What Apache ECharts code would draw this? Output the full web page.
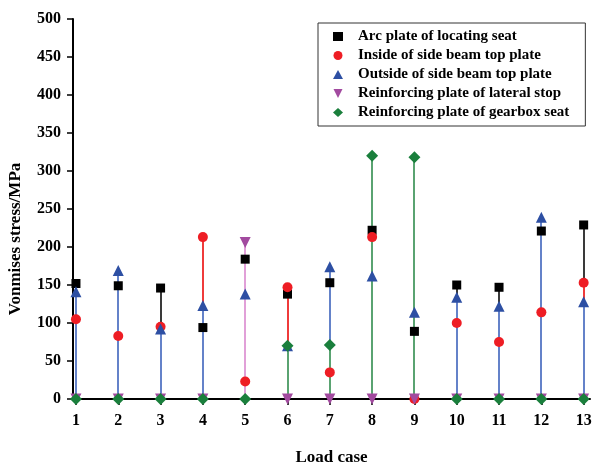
<!DOCTYPE html>
<html>
<head>
<meta charset="utf-8">
<script src="https://cdn.jsdelivr.net/npm/echarts@6/dist/echarts.min.js"></script>
<style>
  html, body { margin: 0; padding: 0; background: #fff; }
  #chart { width: 593px; height: 463px; }
</style>
</head>
<body>
<div id="chart"></div>
<script>
var loadCases = [1, 2, 3, 4, 5, 6, 7, 8, 9, 10, 11, 12, 13]
var yTicks = [0, 50, 100, 150, 200, 250, 300, 350, 400, 450, 500]

var arcPlate = [152, 149, 146, 94, 184, 138, 153, 222, 89, 150, 147, 221, 229]
var insideTop = [105, 83, 95, 213, 23, 147, 35, 213, 0, 100, 75, 114, 153]
var outsideTop = [141, 169, 92, 123, 138, 70, 174, 162, 114, 134, 122, 239, 128]
var lateralStop = [0, 0, 0, 0, 206, 0, 0, 0, 0, 0, 0, 0, 0]
var gearboxSeat = [0, 0, 0, 0, 0, 70, 71, 320, 318, 0, 0, 0, 0]

var names = [
  'Arc plate of locating seat',
  'Inside of side beam top plate',
  'Outside of side beam top plate',
  'Reinforcing plate of lateral stop',
  'Reinforcing plate of gearbox seat'
]
var values = [arcPlate, insideTop, outsideTop, lateralStop, gearboxSeat]
var markColors = ['#000000', '#ee1d24', '#2d4fa3', '#a24a9f', '#1a7f3c']
var stemColors = ['#3a3a3a', '#ef3b3b', '#6482c9', '#e1a0d8', '#5aa371']
var symbols = ['rect', 'circle', 'triangle', 'path://M0,0 L10,0 L5,10 Z', 'diamond']
var sizes = [9, 10, 11, 11, 12]

var font = "'Liberation Serif', 'Times New Roman', serif"

var pairs = function(arr) {
  return arr.map(function(v, i) { return [loadCases[i], v] })
}

var series = []
// drop lines from 0 to each value, later series drawn on top
values.forEach(function(arr, k) {
  series.push({
    name: names[k] + ' stem',
    type: 'custom',
    data: pairs(arr),
    silent: true,
    z: 1 + k,
    renderItem: function(params, api) {
      var x = api.value(0), y = api.value(1)
      if (!y) return null
      var p0 = api.coord([x, 0])
      var p1 = api.coord([x, y])
      var px = Math.round(p0[0]) // snap so stacked stems cover each other cleanly
      return {
        type: 'line',
        z2: k,
        shape: { x1: px, y1: p0[1], x2: px, y2: p1[1] },
        style: { stroke: stemColors[k], lineWidth: 2 }
      }
    }
  })
})
// markers
values.forEach(function(arr, k) {
  series.push({
    name: names[k],
    type: 'scatter',
    data: pairs(arr),
    symbol: symbols[k],
    symbolSize: sizes[k],
    itemStyle: { color: markColors[k], opacity: 1 },
    z: 6 + k
  })
})

var chart = echarts.init(document.getElementById('chart'))
var option = {
  backgroundColor: '#fff',
  animation: false,
  grid: { left: 73, right: 3, top: 19, bottom: 64, outerBoundsMode: 'none' },
  legend: {
    orient: 'vertical',
    left: 318,
    top: 23,
    data: names.map(function(n, k) { return { name: n, icon: symbols[k] } }),
    itemWidth: 10,
    itemHeight: 9,
    itemGap: 4,
    padding: [6, 16, 6, 15],
    borderColor: '#333',
    borderWidth: 1,
    textStyle: {
      fontFamily: font, fontWeight: 'bold', fontSize: 15, color: '#000',
      padding: [0, 0, 0, 10]
    }
  },
  xAxis: {
    type: 'value',
    min: 0.93,
    max: 13.15,
    name: 'Load case',
    nameLocation: 'middle',
    nameGap: 50,
    nameTextStyle: { fontFamily: font, fontWeight: 'bold', fontSize: 17, color: '#000' },
    splitLine: { show: false },
    axisLine: { onZero: false, lineStyle: { color: '#000', width: 2 } },
    axisTick: { customValues: loadCases, length: 6, lineStyle: { color: '#000', width: 1.5 } },
    axisLabel: {
      customValues: loadCases,
      margin: 14,
      fontFamily: font, fontWeight: 'bold', fontSize: 16, color: '#000'
    }
  },
  yAxis: {
    type: 'value',
    min: 0,
    max: 500,
    interval: 50,
    name: 'Vonmises stress/MPa',
    nameLocation: 'middle',
    nameGap: 49,
    nameTextStyle: {
      fontFamily: font, fontWeight: 'bold', fontSize: 17, color: '#000',
      padding: [0, 60, 0, 0]
    },
    splitLine: { show: false },
    axisLine: { show: true, lineStyle: { color: '#000', width: 2 } },
    axisTick: { show: true, length: 6, lineStyle: { color: '#000', width: 1.5 } },
    axisLabel: {
      margin: 12,
      fontFamily: font, fontWeight: 'bold', fontSize: 16, color: '#000',
      formatter: function(v) { return yTicks.indexOf(v) >= 0 ? String(v) : '' }
    }
  },
  series: series
}
chart.setOption(option)
</script>
</body>
</html>
